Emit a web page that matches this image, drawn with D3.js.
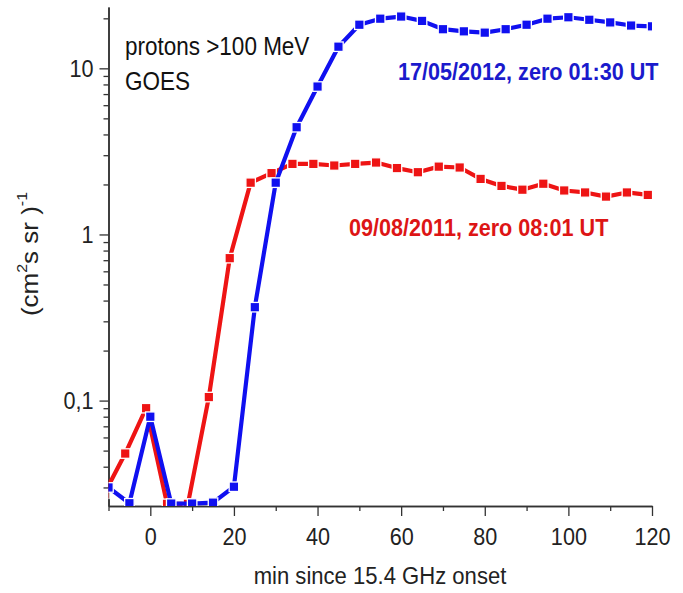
<!DOCTYPE html>
<html>
<head>
<meta charset="utf-8">
<script src="https://cdn.jsdelivr.net/npm/d3@7"></script>
<style>
  body { margin: 0; background: #fff; }
  text { font-family: "Liberation Sans", Arial, sans-serif; }
</style>
</head>
<body>
<script>
var svg_width = 683;
var svg_height = 593;

// minutes since onset, flux (cm2 s sr)^-1
var redTime = [-11, -6, -1, 4, 9, 14, 19, 24, 29, 34, 39, 44, 49, 54, 59, 64, 69, 74, 79, 84, 89, 94, 99, 104, 109, 114, 119];
var redFlux = [0.0275, 0.048, 0.090, 0.0239, 0.0239, 0.105, 0.72, 2.05, 2.34, 2.66, 2.66, 2.60, 2.66, 2.71, 2.51, 2.37, 2.56, 2.53, 2.16, 1.96, 1.86, 2.02, 1.84, 1.79, 1.69, 1.79, 1.73];
var blueTime = [-10, -5, 0, 5, 10, 15, 20, 25, 30, 35, 40, 45, 50, 55, 60, 65, 70, 75, 80, 85, 90, 95, 100, 105, 110, 115, 120];
var blueFlux = [0.030, 0.0241, 0.080, 0.024, 0.024, 0.0243, 0.0303, 0.365, 2.05, 4.42, 7.77, 13.5, 18.3, 19.9, 20.5, 19.3, 17.2, 16.7, 16.4, 17.2, 18.3, 19.9, 20.3, 19.6, 18.9, 18.1, 17.9];

var xMajor = [0, 20, 40, 60, 80, 100, 120];
var xMinor = [-10, 10, 30, 50, 70, 90, 110];
var yMajor = [0.1, 1, 10];
var yMajorLabels = ["0,1", "1", "10"];
var yMinor = [0.03, 0.04, 0.05, 0.06, 0.07, 0.08, 0.09, 0.2, 0.3, 0.4, 0.5, 0.6, 0.7, 0.8, 0.9, 2, 3, 4, 5, 6, 7, 8, 9, 20];

var blueColor = "#1010f0";
var redColor = "#ee1414";
var squeeze = 0.9; // reference text is horizontally narrow

var plotLeft = 108.5, plotRight = 652, plotTop = 7, plotBottom = 506;

var x = d3.scaleLinear().domain([-10, 120]).range([plotLeft, plotRight]);
var y = d3.scaleLog().domain([0.0232, 23.4]).range([plotBottom, plotTop]);

var svg = d3.select("body")
    .append("svg")
    .attr("width", svg_width)
    .attr("height", svg_height);

svg.append("defs").append("clipPath")
    .attr("id", "plot")
    .append("rect")
    .attr("x", plotLeft)
    .attr("y", plotTop)
    .attr("width", plotRight - plotLeft)
    .attr("height", plotBottom - plotTop);

// axes
var axisColor = "#333";

function styleAxis(g) {
    g.select(".domain").attr("stroke", axisColor).attr("stroke-width", 1.5);
    g.selectAll(".tick line").attr("stroke", axisColor).attr("stroke-width", 1.3);
}

var xMinorAxis = d3.axisBottom(x).tickValues(xMinor).tickSize(5).tickSizeOuter(0).tickFormat("");
svg.append("g")
    .attr("transform", "translate(0," + plotBottom + ")")
    .call(xMinorAxis)
    .call(styleAxis);

var xAxis = d3.axisBottom(x).tickValues(xMajor).tickSize(10).tickSizeOuter(0).tickFormat(d3.format("d"));
svg.append("g")
    .attr("transform", "translate(0," + plotBottom + ")")
    .call(xAxis)
    .call(styleAxis)
    .selectAll("text")
    .attr("y", 0)
    .attr("dy", 0)
    .attr("transform", "translate(0,39) scale(" + squeeze + ",1)")
    .attr("fill", "#222")
    .style("font-size", "24px");

var yMinorAxis = d3.axisLeft(y).tickValues(yMinor).tickSize(5).tickSizeOuter(0).tickFormat("");
svg.append("g")
    .attr("transform", "translate(" + plotLeft + ",0)")
    .call(yMinorAxis)
    .call(styleAxis);

var yAxis = d3.axisLeft(y).tickValues(yMajor).tickSize(9).tickSizeOuter(0)
    .tickFormat(function (d, i) { return yMajorLabels[i]; });
svg.append("g")
    .attr("transform", "translate(" + plotLeft + ",0)")
    .call(yAxis)
    .call(styleAxis)
    .selectAll("text")
    .attr("x", 0)
    .attr("dy", 0)
    .attr("transform", "translate(-15,8) scale(" + squeeze + ",1)")
    .attr("fill", "#222")
    .style("font-size", "24px");

// axis titles
svg.append("text")
    .attr("transform", "translate(380,584) scale(0.92,1)")
    .attr("text-anchor", "middle")
    .attr("fill", "#222")
    .style("font-size", "24px")
    .text("min since 15.4 GHz onset");

var yTitle = svg.append("text")
    .attr("transform", "translate(38,254) scale(" + squeeze + ",1) rotate(-90)")
    .attr("text-anchor", "middle")
    .attr("fill", "#222")
    .style("font-size", "26px");
yTitle.append("tspan").text("(cm");
yTitle.append("tspan").attr("dy", -12).style("font-size", "16px").text("2");
yTitle.append("tspan").attr("dy", 12).text("s sr )");
yTitle.append("tspan").attr("dy", -12).style("font-size", "16px").text("-1");

// series
var line = d3.line()
    .x(function (d) { return x(d[0]); })
    .y(function (d) { return y(d[1]); });

var plot = svg.append("g").attr("clip-path", "url(#plot)");

function drawSeries(times, flux, color) {
    var pts = d3.zip(times, flux);
    plot.append("path")
        .datum(pts)
        .attr("d", line)
        .attr("fill", "none")
        .attr("stroke", color)
        .attr("stroke-width", 4.2)
        .attr("stroke-linejoin", "round");
    var s = 9.5;
    plot.selectAll(null)
        .data(pts)
        .enter()
        .append("rect")
        .attr("x", function (d) { return x(d[0]) - s / 2; })
        .attr("y", function (d) { return y(d[1]) - s / 2; })
        .attr("width", s)
        .attr("height", s)
        .attr("fill", color)
        .attr("stroke", "#fff")
        .attr("stroke-width", 1.3);
}

drawSeries(redTime, redFlux, redColor);
drawSeries(blueTime, blueFlux, blueColor);

// annotations
svg.append("text")
    .attr("transform", "translate(125,55) scale(" + squeeze + ",1)")
    .attr("fill", "#111")
    .style("font-size", "25px")
    .text("protons >100 MeV");
svg.append("text")
    .attr("transform", "translate(125,90) scale(" + squeeze + ",1)")
    .attr("fill", "#111")
    .style("font-size", "25px")
    .text("GOES");

svg.append("text")
    .attr("transform", "translate(398,80) scale(" + squeeze + ",1)")
    .attr("fill", "#1a1acc")
    .style("font-size", "24px")
    .style("font-weight", "bold")
    .text("17/05/2012, zero 01:30 UT");
svg.append("text")
    .attr("transform", "translate(349,236) scale(" + squeeze + ",1)")
    .attr("fill", "#dd1515")
    .style("font-size", "24px")
    .style("font-weight", "bold")
    .text("09/08/2011, zero 08:01 UT");
</script>
</body>
</html>
